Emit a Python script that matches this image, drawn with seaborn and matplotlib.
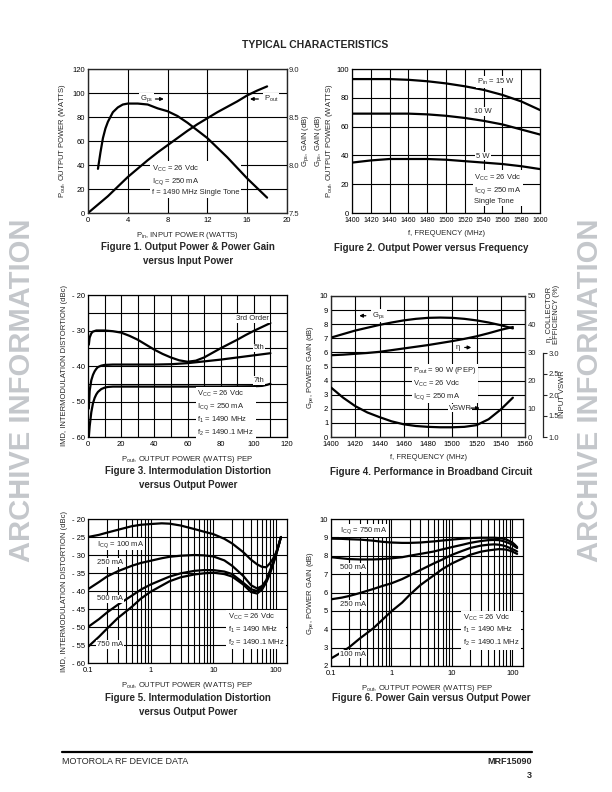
import numpy as np
import pandas as pd
import seaborn as sns
import matplotlib.pyplot as plt
from matplotlib.ticker import FuncFormatter, MultipleLocator, LogLocator, NullFormatter, FixedLocator

# ---- Figure 1: Pout / Gps vs Pin
pin_a = [0, 1, 2, 3, 4, 5, 6, 7, 8, 9, 10, 11, 12, 13, 14, 15, 16, 17, 18]
pout_a = [0, 7, 14, 22, 30, 37, 44, 50.5, 56.5, 62.5, 68.5, 74, 79, 84, 88.5, 93, 98, 102, 105.5]
pin_g = [1.0, 1.25, 1.5, 1.75, 2.0, 2.5, 3.0, 3.5, 4.0, 5.0, 6.0, 7.0, 8.0, 9.0, 10.0, 11.0, 12.0,
         13.0, 14.0, 15.0, 16.0, 17.0, 18.0]
gps_g = [7.96, 8.13, 8.28, 8.38, 8.45, 8.55, 8.60, 8.63, 8.64, 8.64, 8.63, 8.59, 8.56, 8.51, 8.44,
         8.36, 8.28, 8.18, 8.08, 7.97, 7.86, 7.76, 7.66]

# ---- Figure 2: Pout vs frequency
freq2 = [1400, 1420, 1440, 1460, 1480, 1500, 1520, 1540, 1560, 1580, 1600]
p15w = [93, 93, 93, 92.5, 91.5, 90, 88, 85.5, 82, 77.5, 71.5]
p10w = [69, 69, 69, 69, 68.5, 67.5, 66, 64, 61.5, 58, 54.5]
p5w = [35, 36.5, 37.5, 37.5, 37.5, 37, 36, 35, 34, 32.5, 30.5]

# ---- Figure 3: IMD vs Pout
x3rd = [0.5, 1, 2, 3, 5, 8, 10, 15, 20, 25, 30, 35, 40, 45, 50, 55, 60, 65, 70, 75, 80, 85, 90, 95,
        100, 105, 110]
imd3rd = [-34, -32, -30.8, -30.3, -30, -30, -30, -30.2, -30.6, -31.5, -32.6, -34, -35.4, -36.6, -37.6,
          -38.4, -38.8, -38.5, -37.6, -36.3, -35, -33.8, -32.6, -31.3, -30.1, -29, -27.9]
x5th = [0.5, 1, 2, 3, 4, 5, 6, 8, 10, 15, 20, 30, 40, 50, 60, 70, 80, 90, 100, 110]
imd5th = [-52, -47, -44, -42.5, -41.5, -40.8, -40.3, -39.9, -39.7, -39.6, -39.6, -39.6, -39.6, -39.5,
          -39.2, -38.7, -38.2, -37.6, -37, -36.4]
x7th = [0.5, 1, 2, 3, 4, 5, 6, 8, 10, 12, 15, 20, 40, 60, 80, 100, 105, 108, 110]
imd7th = [-60, -57, -53, -50.5, -49, -48, -47.3, -46.5, -46.1, -45.9, -45.8, -45.8, -45.8, -45.8, -45.8,
          -45.7, -45.6, -45.3, -45]

# ---- Figure 4: broadband circuit
freq4 = [1400, 1410, 1420, 1430, 1440, 1450, 1460, 1470, 1480, 1490, 1500, 1510, 1520, 1530, 1540, 1550]
gain4 = [7.05, 7.3, 7.55, 7.75, 7.95, 8.12, 8.27, 8.38, 8.45, 8.47, 8.45, 8.38, 8.27, 8.12, 7.93, 7.7]
eta4 = [29, 29.2, 29.5, 29.8, 30.2, 30.8, 31.4, 32.0, 32.6, 33.3, 34, 34.8, 35.7, 36.8, 38, 39]
vswr4 = [2.17, 1.93, 1.73, 1.58, 1.47, 1.37, 1.30, 1.26, 1.24, 1.23, 1.23, 1.24, 1.28, 1.42, 1.65, 1.93]

# ---- Figures 5 & 6: vs Pout (log)
pout_log = [0.1, 0.15, 0.2, 0.3, 0.5, 0.7, 1, 1.5, 2, 3, 5, 7, 10, 15, 20, 30, 40, 50, 60, 70, 80, 90,
            100, 110, 120]
imd_100 = [-25, -24.4, -23.8, -23.0, -22.0, -21.6, -21.4, -21.2, -21.3, -21.8, -22.8, -23.5, -24.2, -25.5,
           -26.8, -29.2, -31.3, -32.6, -33.3, -33.4, -32.3, -31, -29.4, -27.3, -25]
imd_250 = [-39.5, -37.5, -36, -34.5, -33, -32.2, -31.6, -30.9, -30.5, -30.2, -30, -30.1, -30.4, -31.5,
           -33, -35.8, -38.4, -39.3, -38.6, -37, -34.4, -32, -29.7, -27.3, -25]
imd_500 = [-50, -47.8, -46, -43.8, -41.3, -39.6, -38.2, -36.9, -36, -35.1, -34.4, -34.2, -34.2, -34.6,
           -35.3, -37.7, -39.5, -40, -39, -37.3, -34.8, -32.3, -30, -27.4, -25]
imd_750 = [-55.5, -52.7, -50.5, -47.5, -44.4, -42.1, -40.2, -38.5, -37.3, -36.2, -35.4, -35.1, -34.9,
           -35.3, -36, -38.2, -40.3, -40.7, -39.6, -37.6, -35.3, -32.6, -30.1, -27.5, -25]
g_750 = [8.93, 8.92, 8.9, 8.88, 8.82, 8.76, 8.72, 8.7, 8.7, 8.72, 8.78, 8.83, 8.88, 8.93, 8.96, 8.98,
         8.98, 8.98, 8.96, 8.93, 8.88, 8.8, 8.72, 8.6, 8.47]
g_500 = [7.92, 7.86, 7.82, 7.8, 7.8, 7.82, 7.86, 7.92, 8.0, 8.1, 8.23, 8.35, 8.47, 8.6, 8.7, 8.8, 8.85,
         8.86, 8.85, 8.8, 8.74, 8.67, 8.6, 8.5, 8.42]
g_250 = [5.63, 5.72, 5.81, 5.97, 6.19, 6.35, 6.5, 6.73, 6.93, 7.22, 7.58, 7.8, 8.05, 8.27, 8.42, 8.55,
         8.6, 8.62, 8.6, 8.56, 8.5, 8.43, 8.36, 8.3, 8.23]
g_100 = [2.41, 2.75, 3.02, 3.5, 4.05, 4.5, 4.98, 5.45, 5.87, 6.4, 6.93, 7.28, 7.58, 7.85, 8.05, 8.22,
         8.29, 8.33, 8.36, 8.35, 8.33, 8.28, 8.23, 8.16, 8.1]

sns.set_style("white")
plt.rcParams['font.family'] = ['Liberation Sans', 'DejaVu Sans']
plt.rcParams['mathtext.fontset'] = 'custom'
plt.rcParams['mathtext.rm'] = 'Liberation Sans'
plt.rcParams['mathtext.it'] = 'Liberation Sans'

W, H = 612, 792
FS = 5.5
fig = plt.figure(figsize=(W / 100, H / 100), dpi=100)


def make_ax(l, r, t, b):
    return fig.add_axes([l / W, 1 - b / H, (r - l) / W, (b - t) / H])


def style(ax):
    for s in ax.spines.values():
        s.set_color('black')
        s.set_linewidth(0.9)
    ax.tick_params(length=0, labelsize=FS, pad=2, colors='black')
    ax.tick_params(axis='x', pad=3)
    ax.grid(True, which='both', color='black', linewidth=0.8)
    ax.set_axisbelow(True)


def curve(ax, x, y):
    sns.lineplot(x=x, y=y, ax=ax, color='black', linewidth=1.6, estimator=None, sort=False)


def box(ax, x, y, s, ha='left', va='center'):
    ax.text(x, y, s, fontsize=FS, ha=ha, va=va,
            bbox=dict(fc='white', ec='none', pad=0.6), zorder=5)


def arrow(ax, x0, x1, y):
    ax.annotate('', xy=(x1, y), xytext=(x0, y),
                arrowprops=dict(arrowstyle='-|>', color='black', lw=0.9, mutation_scale=5), zorder=6)


neg = FuncFormatter(lambda v, p: f"- {-v:g}" if v < 0 else f"{v:g}")
sub = lambda a, b: a + r"$_{\mathregular{" + b + "}}$"

# ---------------- Figure 1
ax1 = make_ax(88, 287, 69, 213)
curve(ax1, pin_a, pout_a)
ax1.set_xlim(0, 20)
ax1.set_ylim(0, 120)
ax1.xaxis.set_major_locator(MultipleLocator(4))
ax1.yaxis.set_major_locator(MultipleLocator(20))
style(ax1)
ax1.set_xlabel(sub("P", "in") + ", INPUT POWER (WATTS)", fontsize=FS, labelpad=4)
ax1.set_ylabel(sub("P", "out") + ", OUTPUT POWER (WATTS)", fontsize=FS, labelpad=3)
ax1b = ax1.twinx()
curve(ax1b, pin_g, gps_g)
ax1b.set_ylim(7.5, 9.0)
ax1b.yaxis.set_major_locator(FixedLocator([7.5, 8.0, 8.5, 9.0]))
ax1b.yaxis.set_major_formatter(FuncFormatter(lambda v, p: f"{v:.1f}"))
ax1b.tick_params(length=0, labelsize=FS, pad=1.5)
ax1b.set_ylabel(sub("G", "ps") + ", GAIN (dB)", fontsize=FS, labelpad=0.5)
box(ax1, 5.2, 95, sub("G", "ps"))
arrow(ax1, 6.5, 7.9, 95)
arrow(ax1, 17.4, 16.0, 95)
box(ax1, 17.7, 95, sub("P", "out"))
ax1.text(6.4, 27.5, "V" + r"$_{\mathregular{CC}}$" + " = 26 Vdc\n" + sub("I", "CQ") + " = 250 mA\n"
         "f = 1490 MHz Single Tone", fontsize=FS, va='center', linespacing=1.35,
         bbox=dict(fc='white', ec='none', pad=1.5), zorder=5)

# ---------------- Figure 2
ax2 = make_ax(352, 540, 69, 213)
curve(ax2, freq2, p15w)
curve(ax2, freq2, p10w)
curve(ax2, freq2, p5w)
ax2.set_xlim(1400, 1600)
ax2.set_ylim(0, 100)
ax2.xaxis.set_major_locator(MultipleLocator(20))
ax2.yaxis.set_major_locator(MultipleLocator(20))
style(ax2)
ax2.tick_params(axis='x', labelsize=5.0)
ax2.set_xlabel("f, FREQUENCY (MHz)", fontsize=FS, labelpad=4)
ax2.set_ylabel(sub("G", "ps") + ", GAIN (dB)\n" + sub("P", "out") + ", OUTPUT POWER (WATTS)",
               fontsize=FS, labelpad=1, linespacing=1.1)
box(ax2, 1533, 91.2, sub("P", "in") + " = 15 W")
box(ax2, 1530, 70.5, "10 W")
box(ax2, 1532, 39.5, "5 W")
ax2.text(1530, 17, "V" + r"$_{\mathregular{CC}}$" + " = 26 Vdc\n" + sub("I", "CQ") + " = 250 mA\nSingle Tone",
         fontsize=FS, va='center', linespacing=1.35, bbox=dict(fc='white', ec='none', pad=1.2), zorder=5)

# ---------------- Figure 3
ax3 = make_ax(88, 287, 295, 437)
curve(ax3, x3rd, imd3rd)
curve(ax3, x5th, imd5th)
curve(ax3, x7th, imd7th)
ax3.set_xlim(0, 120)
ax3.set_ylim(-60, -20)
ax3.xaxis.set_major_locator(MultipleLocator(20))
ax3.xaxis.set_minor_locator(MultipleLocator(10))
ax3.yaxis.set_major_locator(MultipleLocator(10))
ax3.yaxis.set_minor_locator(MultipleLocator(5))
ax3.yaxis.set_major_formatter(neg)
style(ax3)
ax3.set_xlabel(sub("P", "out") + ", OUTPUT POWER (WATTS) PEP", fontsize=FS, labelpad=4)
ax3.set_ylabel("IMD, INTERMODULATION DISTORTION (dBc)", fontsize=FS, labelpad=3)
box(ax3, 109, -26.6, "3rd Order", ha='right')
box(ax3, 103, -34.9, "5th", ha='center')
box(ax3, 103, -44.1, "7th", ha='center')
ax3.text(66, -53.3, "V" + r"$_{\mathregular{CC}}$" + " = 26 Vdc\n" + sub("I", "CQ") + " = 250 mA\n"
         + sub("f", "1") + " = 1490 MHz\n" + sub("f", "2") + " = 1490.1 MHz",
         fontsize=FS, va='center', linespacing=1.35, bbox=dict(fc='white', ec='none', pad=1.2), zorder=5)

# ---------------- Figure 4
ax4 = make_ax(331, 525, 296, 437)
curve(ax4, freq4, gain4)
ax4.set_xlim(1400, 1560)
ax4.set_ylim(0, 10)
ax4.xaxis.set_major_locator(MultipleLocator(20))
ax4.yaxis.set_major_locator(MultipleLocator(1))
style(ax4)
ax4.set_xlabel("f, FREQUENCY (MHz)", fontsize=FS, labelpad=4)
ax4.set_ylabel(sub("G", "pe") + ", POWER GAIN (dB)", fontsize=FS, labelpad=3)
ax4e = ax4.twinx()
curve(ax4e, freq4, eta4)
ax4e.set_ylim(0, 50)
ax4e.yaxis.set_major_locator(MultipleLocator(10))
ax4e.tick_params(length=0, labelsize=FS, pad=2)
ax4e.set_ylabel("")
ax4v = ax4.twinx()
curve(ax4v, freq4, vswr4)
ax4v.set_ylim(1.0, 1.0 + 2.0 * 10 / 6)
ax4v.set_yticks([])
ax4v.set_ylabel("")
for s in ax4v.spines.values():
    s.set_visible(False)
# separate VSWR scale
axv = make_ax(542, 542.5, 353, 437)
axv.set_ylim(1.0, 3.0)
axv.set_xticks([])
axv.yaxis.tick_right()
axv.yaxis.set_major_locator(MultipleLocator(0.5))
axv.yaxis.set_major_formatter(FuncFormatter(lambda v, p: f"{v:.1f}"))
axv.tick_params(axis='y', direction='out', length=3, width=0.8, labelsize=FS, pad=1.5)
for k in ['left', 'top', 'bottom']:
    axv.spines[k].set_visible(False)
axv.spines['right'].set_linewidth(0.9)
fig.text(563 / W, 1 - 394 / H, "INPUT VSWR", rotation=90, fontsize=FS, ha='center', va='center')
fig.text(553 / W, 1 - 314 / H, "η, COLLECTOR\nEFFICIENCY (%)", rotation=90, fontsize=FS,
         ha='center', va='center', linespacing=1.1)
box(ax4, 1434, 8.6, sub("G", "ps"))
arrow(ax4, 1431, 1421, 8.6)
box(ax4, 1503, 6.35, "η")
arrow(ax4, 1508, 1518, 6.35)
box(ax4, 1497, 2.05, "VSWR")
arrow(ax4, 1513, 1525, 2.05)
ax4.text(1468, 3.8, sub("P", "out") + " = 90 W (PEP)\nV" + r"$_{\mathregular{CC}}$" + " = 26 Vdc\n"
         + sub("I", "CQ") + " = 250 mA",
         fontsize=FS, va='center', linespacing=1.35, bbox=dict(fc='white', ec='none', pad=1.2), zorder=5)

# ---------------- Figure 5
ax5 = make_ax(88, 287, 519, 663)
ax5.set_xscale('log')
for yv in [imd_100, imd_250, imd_500, imd_750]:
    curve(ax5, pout_log, yv)
ax5.set_xlim(0.1, 150)
ax5.set_ylim(-60, -20)
ax5.xaxis.set_major_locator(FixedLocator([0.1, 1, 10, 100]))
ax5.xaxis.set_major_formatter(FuncFormatter(lambda v, p: f"{v:g}"))
ax5.xaxis.set_minor_locator(LogLocator(base=10, subs=range(2, 10)))
ax5.xaxis.set_minor_formatter(NullFormatter())
ax5.yaxis.set_major_locator(MultipleLocator(5))
ax5.yaxis.set_major_formatter(neg)
style(ax5)
ax5.set_xlabel(sub("P", "out") + ", OUTPUT POWER (WATTS) PEP", fontsize=FS, labelpad=4)
ax5.set_ylabel("IMD, INTERMODULATION DISTORTION (dBc)", fontsize=FS, labelpad=3)
box(ax5, 0.14, -27, sub("I", "CQ") + " = 100 mA")
box(ax5, 0.14, -32, "250 mA")
box(ax5, 0.14, -42.2, "500 mA")
box(ax5, 0.14, -54.9, "750 mA")
ax5.text(17, -50.8, "V" + r"$_{\mathregular{CC}}$" + " = 26 Vdc\n" + sub("f", "1") + " = 1490 MHz\n"
         + sub("f", "2") + " = 1490.1 MHz",
         fontsize=FS, va='center', linespacing=1.35, bbox=dict(fc='white', ec='none', pad=1.2), zorder=5)

# ---------------- Figure 6
ax6 = make_ax(331, 523, 519, 666)
ax6.set_xscale('log')
for yv in [g_750, g_500, g_250, g_100]:
    curve(ax6, pout_log, yv)
ax6.set_xlim(0.1, 150)
ax6.set_ylim(2, 10)
ax6.xaxis.set_major_locator(FixedLocator([0.1, 1, 10, 100]))
ax6.xaxis.set_major_formatter(FuncFormatter(lambda v, p: f"{v:g}"))
ax6.xaxis.set_minor_locator(LogLocator(base=10, subs=range(2, 10)))
ax6.xaxis.set_minor_formatter(NullFormatter())
ax6.yaxis.set_major_locator(MultipleLocator(1))
style(ax6)
ax6.set_xlabel(sub("P", "out") + ", OUTPUT POWER (WATTS) PEP", fontsize=FS, labelpad=4)
ax6.set_ylabel(sub("G", "pe") + ", POWER GAIN (dB)", fontsize=FS, labelpad=3)
box(ax6, 0.14, 9.38, sub("I", "CQ") + " = 750 mA")
box(ax6, 0.14, 7.35, "500 mA")
box(ax6, 0.14, 5.35, "250 mA")
box(ax6, 0.14, 2.65, "100 mA")
ax6.text(15, 3.95, "V" + r"$_{\mathregular{CC}}$" + " = 26 Vdc\n" + sub("f", "1") + " = 1490 MHz\n"
         + sub("f", "2") + " = 1490.1 MHz",
         fontsize=FS, va='center', linespacing=1.35, bbox=dict(fc='white', ec='none', pad=1.2), zorder=5)

# ---------------- page text
CAP = 7
fig.text(315 / W, 1 - 45 / H, "TYPICAL CHARACTERISTICS", fontsize=7.5, weight='bold', ha='center', va='center')
fig.text(188 / W, 1 - 254 / H, "Figure 1. Output Power & Power Gain\nversus Input Power", fontsize=CAP,
         weight='bold', ha='center', va='center', linespacing=1.4)
fig.text(431 / W, 1 - 248 / H, "Figure 2. Output Power versus Frequency", fontsize=CAP,
         weight='bold', ha='center', va='center')
fig.text(188 / W, 1 - 478 / H, "Figure 3. Intermodulation Distortion\nversus Output Power", fontsize=CAP,
         weight='bold', ha='center', va='center', linespacing=1.4)
fig.text(431 / W, 1 - 472 / H, "Figure 4. Performance in Broadband Circuit", fontsize=CAP,
         weight='bold', ha='center', va='center')
fig.text(188 / W, 1 - 705 / H, "Figure 5. Intermodulation Distortion\nversus Output Power", fontsize=CAP,
         weight='bold', ha='center', va='center', linespacing=1.4)
fig.text(431 / W, 1 - 698 / H, "Figure 6. Power Gain versus Output Power", fontsize=CAP,
         weight='bold', ha='center', va='center')

for xw in [22, 590]:
    fig.text(xw / W, 1 - 390 / H, "ARCHIVE INFORMATION", rotation=90, fontsize=21, weight='bold',
             color='#c4c7cb', ha='center', va='center')

fig.add_artist(plt.Line2D([62 / W, 532 / W], [1 - 752 / H, 1 - 752 / H], color='black', lw=1.6))
fig.text(62 / W, 1 - 762 / H, "MOTOROLA RF DEVICE DATA", fontsize=6.5, ha='left', va='center')
fig.text(532 / W, 1 - 762 / H, "MRF15090", fontsize=6.5, weight='bold', ha='right', va='center')
fig.text(532 / W, 1 - 775 / H, "3", fontsize=6.5, weight='bold', ha='right', va='center')

fig.savefig("out.png", dpi=100)
